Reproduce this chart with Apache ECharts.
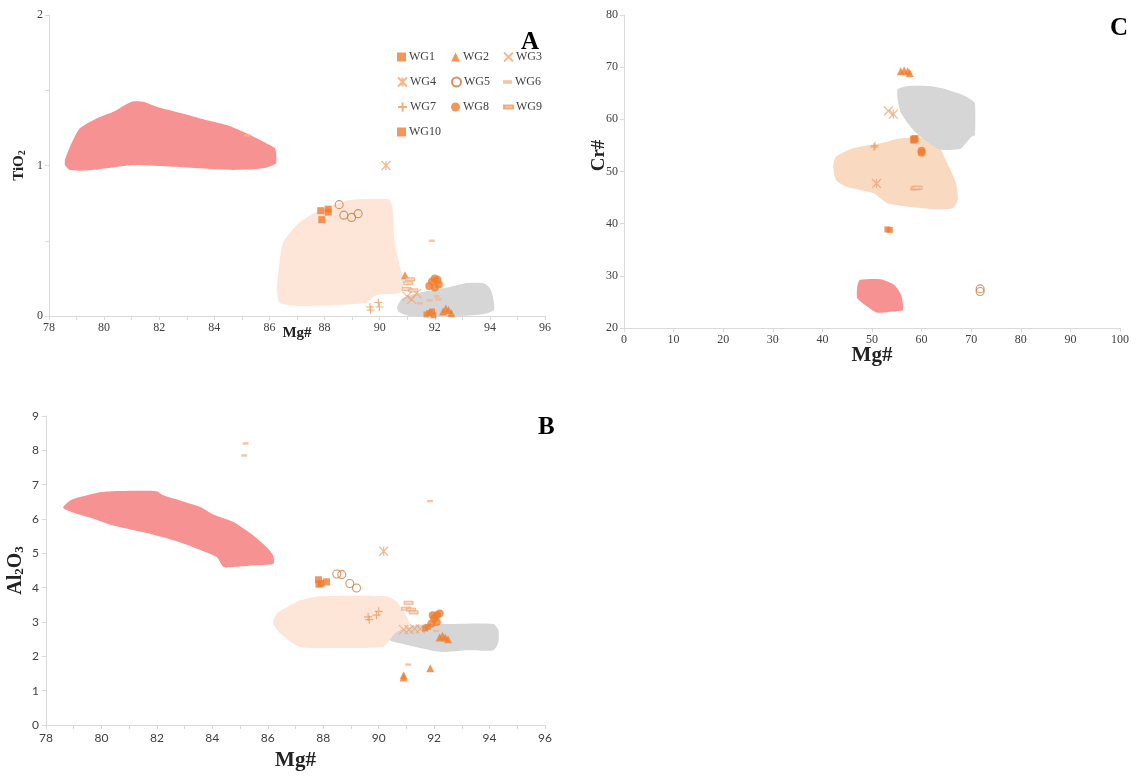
<!DOCTYPE html>
<html><head><meta charset="utf-8">
<script src="https://cdn.jsdelivr.net/npm/echarts@6/dist/echarts.min.js"></script>
<style>html,body{margin:0;padding:0;background:#fff}#c{width:1138px;height:776px}</style>
</head><body><div id="c"></div>
<script>
// ---------- Tick labels / categories ----------
const groups = ['WG1','WG2','WG3','WG4','WG5','WG6','WG7','WG8','WG9','WG10'];

// ---------- Panel A: Mg# vs TiO2 ----------
const a_wg1 = [[87.86,0.70],[88.13,0.71],[88.13,0.69],[87.9,0.64]];
const a_wg2 = [[90.92,0.27],[92.3,0.03],[92.4,0.05],[92.5,0.04],[92.6,0.02]];
const a_wg3 = [[91.0,0.13],[91.34,0.15],[91.16,0.11]];
const a_wg4 = [[90.23,1.0]];
const a_wg5 = [[88.53,0.74],[88.70,0.67],[88.98,0.655],[89.22,0.68]];
const a_wg6 = [[91.89,0.5],[92.07,0.13],[92.13,0.11],[91.82,0.105],[91.46,0.085],[85.2,1.2]];
const a_wg7 = [[89.65,0.06],[89.67,0.04],[89.95,0.09],[89.99,0.06]];
const a_wg8 = [[91.8,0.2],[91.9,0.23],[92.0,0.25],[92.1,0.24],[92.15,0.21],[92.0,0.19]];
const a_wg9 = [[91.1,0.244],[91.04,0.22],[90.98,0.18],[91.22,0.17]];
const a_wg10 = [[91.7,0.01],[91.8,0.02],[91.9,0.03],[91.95,0.005]];
const a_red = [[78.58,1.037],[78.76,1.125],[79.12,1.247],[79.73,1.313],[80.33,1.357],[81.0,1.424],[81.42,1.424],[81.91,1.391],[82.81,1.347],[83.48,1.313],[84.45,1.269],[85.17,1.214],[85.9,1.147],[86.2,1.114],[86.24,1.015],[85.78,0.981],[84.69,0.970],[83.48,0.981],[82.51,0.992],[81.06,1.003],[80.09,0.981],[79.37,0.966],[78.76,0.970],[78.58,1.003]];
const a_peach = [[86.38,0.086],[86.27,0.173],[86.35,0.339],[86.49,0.485],[86.82,0.571],[87.11,0.625],[87.83,0.704],[88.92,0.771],[90.30,0.777],[90.45,0.738],[90.55,0.485],[90.74,0.326],[90.88,0.219],[90.74,0.153],[89.90,0.140],[89.47,0.086],[87.11,0.066]];
const a_grey = [[90.63,0.06],[90.84,0.12],[91.57,0.16],[92.55,0.193],[93.17,0.219],[93.75,0.219],[94.0,0.186],[94.11,0.126],[94.15,0.04],[93.78,0.013],[92.91,0.0],[91.1,0.0],[90.7,0.027]];

// ---------- Panel B: Mg# vs Al2O3 ----------
const b_wg1 = [[87.83,4.23],[87.92,4.12],[88.12,4.17],[87.85,4.1]];
const b_wg2 = [[90.9,1.45],[90.9,1.38],[91.86,1.65],[92.2,2.55],[92.3,2.6],[92.4,2.55],[92.5,2.5]];
const b_wg3 = [[90.9,2.78],[91.1,2.78],[91.3,2.8],[91.5,2.8]];
const b_wg4 = [[90.18,5.06]];
const b_wg5 = [[88.49,4.40],[88.67,4.38],[88.96,4.12],[89.2,3.99]];
const b_wg6 = [[92.07,2.74],[91.07,1.76],[85.2,8.2],[85.15,7.85],[91.85,6.52]];
const b_wg7 = [[89.62,3.15],[89.66,3.07],[89.92,3.2],[90.0,3.31]];
const b_wg8 = [[91.9,2.95],[92.0,3.1],[92.1,3.2],[92.2,3.25],[92.1,3.0],[91.95,3.2]];
const b_wg9 = [[91.08,3.56],[90.99,3.39],[91.17,3.36],[91.26,3.28]];
const b_wg10 = [[91.77,2.86],[91.68,2.81]];
const b_red = [[78.62,6.33],[78.87,6.54],[79.23,6.64],[79.95,6.78],[80.43,6.81],[81.99,6.81],[82.23,6.69],[82.83,6.54],[83.56,6.35],[84.04,6.13],[84.76,5.91],[85.48,5.52],[85.96,5.18],[86.2,4.94],[86.2,4.70],[85.48,4.65],[84.76,4.60],[84.4,4.60],[84.16,4.89],[83.31,5.18],[82.59,5.38],[81.63,5.59],[80.43,5.81],[79.71,6.01],[79.11,6.15]];
const b_peach = [[86.33,3.26],[86.69,3.43],[87.16,3.63],[87.88,3.75],[90.30,3.75],[90.66,3.58],[91.02,3.14],[91.13,2.91],[90.88,2.67],[90.41,2.47],[90.16,2.27],[88.61,2.24],[87.16,2.27],[86.44,2.67],[86.19,2.97]];
const b_grey = [[90.41,2.47],[90.65,2.71],[91.37,2.91],[92.57,2.94],[94.14,2.94],[94.32,2.76],[94.32,2.42],[94.14,2.18],[93.18,2.18],[92.21,2.13],[90.77,2.38]];

// ---------- Panel C: Mg# vs Cr# ----------
const c_wg1 = [[58.4,56.2],[58.7,56.3],[58.5,56.0]];
const c_wg2 = [[55.8,69.2],[56.5,69.4],[57.2,69.2],[57.6,68.9]];
const c_wg3 = [[53.3,61.6]];
const c_wg4 = [[54.3,61.0],[50.9,47.7]];
const c_wg5 = [[71.8,27.5],[71.8,27.0]];
const c_wg6 = [[58.3,46.6]];
const c_wg7 = [[50.6,54.95],[50.4,54.7]];
const c_wg8 = [[60.0,54.0],[60.0,53.6]];
const c_wg9 = [[58.8,46.8],[59.2,46.9]];
const c_wg10 = [[53.1,38.9],[53.6,38.8]];
const c_red = [[47.57,29.2],[51.72,29.33],[54.50,28.24],[55.87,26.33],[56.22,23.45],[53.80,23.13],[51.04,22.94],[48.61,24.41],[47.03,25.7],[47.03,27.93]];
const c_peach = [[42.74,52.84],[46.20,54.45],[51.72,55.41],[55.87,56.37],[60.73,56.37],[63.49,54.76],[64.88,52.20],[66.95,47.74],[67.28,44.54],[66.25,42.95],[63.49,42.75],[57.26,43.25],[53.11,43.90],[50.35,45.82],[44.81,47.09],[42.74,48.38],[42.18,50.92]];
const c_grey = [[55.19,65.76],[57.26,66.39],[61.41,66.39],[64.17,65.95],[68.32,64.67],[70.06,63.71],[70.75,63.08],[70.75,57.0],[70.06,56.67],[68.32,54.76],[67.63,54.26],[63.49,54.26],[58.65,57.63],[55.87,61.16],[55.19,63.71]];

const panelA = [a_wg1,a_wg2,a_wg3,a_wg4,a_wg5,a_wg6,a_wg7,a_wg8,a_wg9,a_wg10];
const panelB = [b_wg1,b_wg2,b_wg3,b_wg4,b_wg5,b_wg6,b_wg7,b_wg8,b_wg9,b_wg10];
const panelC = [c_wg1,c_wg2,c_wg3,c_wg4,c_wg5,c_wg6,c_wg7,c_wg8,c_wg9,c_wg10];

// ---------- Styles ----------
const SERIF = '"Liberation Serif","Times New Roman",serif';
const ORANGE = '#ed7d31', LIGHT = '#f1a56f';
const styles = [
  {symbol:'rect', size:7, item:{color:ORANGE}},
  {symbol:'triangle', size:8, item:{color:ORANGE}},
  {symbol:'path://M0,0L10,10M10,0L0,10', size:9, item:{color:LIGHT, borderColor:LIGHT, borderWidth:1.2}},
  {symbol:'path://M0,0L10,10M10,0L0,10M5,0L5,10', size:9, item:{color:LIGHT, borderColor:LIGHT, borderWidth:1.2}},
  {symbol:'circle', size:8, item:{color:'rgba(255,255,255,0)', borderColor:'#c8793f', borderWidth:1.1}},
  {symbol:'path://M0,0H10V4H0Z', size:6, item:{color:'#f3b58a'}},
  {symbol:'path://M5,0L5,10M0,5L10,5', size:8, item:{color:'#ee9a5c', borderColor:'#ee9a5c', borderWidth:1.1}},
  {symbol:'circle', size:8, item:{color:ORANGE}},
  {symbol:'path://M0,0H10V3.5H0Z', size:9, item:{color:'#f8cdb0', borderColor:'#e99a63', borderWidth:0.8}},
  {symbol:'rect', size:6, item:{color:ORANGE}}
];

function poly(data, color, idx) {
  return {type:'custom', xAxisIndex:idx, yAxisIndex:idx, silent:true, z:1, data:data,
    renderItem:function(params, api){
      if (params.dataIndex !== 0) return null;
      const pts = data.map(p => api.coord(p));
      return {type:'polygon', shape:{points:pts, smooth:0.2}, style:{fill:color}};
    }};
}
function scat(panel, idx) {
  return panel.map((d,i) => ({
    name: groups[i], type:'scatter', xAxisIndex:idx, yAxisIndex:idx, z:3,
    symbol: styles[i].symbol, symbolSize: styles[i].size, symbolKeepAspect:true,
    itemStyle: styles[i].item, data: d, silent:true
  }));
}

const axLine = {lineStyle:{color:'#d9d9d9'}};
const axTick = {show:true, length:4, lineStyle:{color:'#d9d9d9'}};
const serifLbl = {color:'#404040', fontFamily:SERIF, fontSize:12, margin:6};
const sansLbl = {color:'#404040', fontFamily:'Lato, sans-serif', fontSize:12, margin:7};

const legends = groups.map((g,i) => ({
  data:[g], left: [397,451,503][i%3], top: [51,76,101,126][Math.floor(i/3)],
  itemWidth:9, itemHeight:9, itemGap:3, padding:0, selectedMode:false,
  textStyle:{fontFamily:SERIF, fontSize:12, color:'#404040', padding:[0,0,0,-2]}
}));

const option = {
  backgroundColor:'#fff', animation:false,
  title: [
    {text:'A', left:516, top:25, textStyle:{fontFamily:SERIF, fontSize:25, fontWeight:'bold', color:'#000'}},
    {text:'B', left:533, top:410, textStyle:{fontFamily:SERIF, fontSize:25, fontWeight:'bold', color:'#000'}},
    {text:'C', left:1105, top:11, textStyle:{fontFamily:SERIF, fontSize:25, fontWeight:'bold', color:'#000'}}
  ],
  legend: legends,
  grid: [
    {left:49, top:15, width:496, height:301},
    {left:46, top:416, width:499, height:309},
    {left:624, top:15, width:496, height:313}
  ],
  xAxis: [
    {gridIndex:0, type:'value', min:78, max:96, interval:1, splitLine:{show:false}, axisLine:axLine, axisTick:axTick,
     axisLabel:Object.assign({formatter:v => v%2===0 ? String(v) : ''}, serifLbl),
     name:'Mg#', nameLocation:'middle', nameGap:10, nameMoveOverlap:false, nameTextStyle:{fontFamily:SERIF, fontWeight:'bold', fontSize:15, color:'#222'}},
    {gridIndex:1, type:'value', min:78, max:96, interval:1, splitLine:{show:false}, axisLine:axLine, axisTick:axTick,
     axisLabel:Object.assign({formatter:v => v%2===0 ? String(v) : ''}, sansLbl),
     name:'Mg#', nameLocation:'middle', nameGap:25, nameMoveOverlap:false, nameTextStyle:{fontFamily:SERIF, fontWeight:'bold', fontSize:21, color:'#222'}},
    {gridIndex:2, type:'value', min:0, max:100, interval:10, splitLine:{show:false}, axisLine:axLine, axisTick:axTick,
     axisLabel:serifLbl,
     name:'Mg#', nameLocation:'middle', nameGap:17, nameMoveOverlap:false, nameTextStyle:{fontFamily:SERIF, fontWeight:'bold', fontSize:21, color:'#222'}}
  ],
  yAxis: [
    {gridIndex:0, type:'value', min:0, max:2, interval:0.5, splitLine:{show:false}, axisLine:{show:true, lineStyle:{color:'#d9d9d9'}}, axisTick:axTick,
     axisLabel:Object.assign({formatter:v => Number.isInteger(v) ? String(v) : ''}, serifLbl),
     name:'{t|TiO}{s|2}', nameLocation:'middle', nameGap:22, nameRotate:90, nameMoveOverlap:false,
     nameTextStyle:{rich:{t:{fontFamily:SERIF, fontWeight:'bold', fontSize:15, color:'#222'}, s:{fontFamily:SERIF, fontWeight:'bold', fontSize:10, color:'#222', verticalAlign:'bottom', padding:[5,0,0,0]}}}},
    {gridIndex:1, type:'value', min:0, max:9, interval:1, splitLine:{show:false}, axisLine:{show:true, lineStyle:{color:'#d9d9d9'}}, axisTick:axTick,
     axisLabel:sansLbl,
     name:'{t|Al}{s|2}{t|O}{s|3}', nameLocation:'middle', nameGap:20, nameRotate:90, nameMoveOverlap:false,
     nameTextStyle:{rich:{t:{fontFamily:SERIF, fontWeight:'bold', fontSize:20, color:'#222'}, s:{fontFamily:SERIF, fontWeight:'bold', fontSize:13, color:'#222', verticalAlign:'bottom', padding:[6,0,0,0]}}}},
    {gridIndex:2, type:'value', min:20, max:80, interval:10, splitLine:{show:false}, axisLine:{show:true, lineStyle:{color:'#d9d9d9'}}, axisTick:axTick,
     axisLabel:serifLbl,
     name:'Cr#', nameLocation:'middle', nameGap:15, nameRotate:90, nameMoveOverlap:false,
     nameTextStyle:{fontFamily:SERIF, fontWeight:'bold', fontSize:19, color:'#222', padding:[0,0,0,32]}}
  ],
  series: [
    poly(a_red,'#f79292',0), poly(a_peach,'#fde6d8',0), poly(a_grey,'#d6d6d6',0),
    poly(b_red,'#f79292',1), poly(b_peach,'#fde6d8',1), poly(b_grey,'#d6d6d6',1),
    poly(c_red,'#f79292',2), poly(c_peach,'#f9d9c0',2), poly(c_grey,'#d6d6d6',2)
  ].concat(scat(panelA,0), scat(panelB,1), scat(panelC,2))
};

const chart = echarts.init(document.getElementById('c'), null, {renderer:'canvas'});
chart.setOption(option);
</script>
</body></html>
